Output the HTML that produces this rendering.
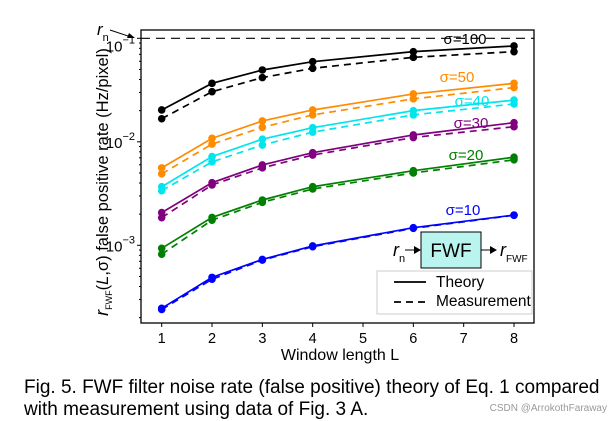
<!DOCTYPE html>
<html><head><meta charset="utf-8"><style>
body{margin:0;background:#fff;width:613px;height:421px;overflow:hidden;font-family:"Liberation Sans",Arial,sans-serif}
.cap{position:absolute;left:24px;top:377px;font-size:19px;line-height:22px;color:#000;white-space:nowrap}
.wm{position:absolute;right:6px;top:403px;font-size:10px;color:#999}
</style></head><body>
<svg id="chart" width="613" height="421" style="position:absolute;left:0;top:0" font-family="Liberation Sans, Arial, sans-serif"></svg>
<div class="cap">Fig. 5. FWF filter noise rate (false positive) theory of Eq. 1 compared<br>with measurement using data of Fig. 3 A.</div>
<div class="wm">CSDN @ArrokothFaraway</div>
<script>
const windows=[1,2,3,4,6,8];
const sigmaLabels=["σ=100","σ=50","σ=40","σ=30","σ=20","σ=10"];
const colors=["#000000","#ff8c00","#00e5ee","#800080","#008000","#0000ff"];
const theory100=[0.0203,0.0367,0.0494,0.0594,0.0743,0.0843];
const meas100=[0.0167,0.0305,0.0417,0.0513,0.0655,0.0743];
const theory50=[0.0056,0.0108,0.0159,0.0203,0.029,0.0367];
const meas50=[0.0049,0.0095,0.0138,0.0182,0.026,0.0334];
const theory40=[0.00368,0.0072,0.0106,0.0137,0.020,0.0253];
const meas40=[0.00337,0.0064,0.0093,0.0124,0.0182,0.0232];
const theory30=[0.00207,0.00403,0.00597,0.00785,0.01164,0.0153];
const meas30=[0.00185,0.00383,0.0056,0.00745,0.011,0.014];
const theory20=[0.000935,0.00186,0.00274,0.00368,0.00526,0.0071];
const meas20=[0.00082,0.00175,0.0026,0.0035,0.0050,0.0067];
const theory10=[0.000246,0.00049,0.00073,0.000985,0.00148,0.00196];
const meas10=[0.000240,0.00047,0.00072,0.00097,0.00146,0.00195];
const xTicks=[1,2,3,4,5,6,7,8];
const rn=0.1;
const theories=[theory100,theory50,theory40,theory30,theory20,theory10];
const meass=[meas100,meas50,meas40,meas30,meas20,meas10];
const labelPos=[[465,44],[457,82],[472,106],[471,128],[466,160],[463,215]];

const NS="http://www.w3.org/2000/svg";
const svg=document.getElementById('chart');
const L=141,R=534,T=30,B=323;
const xS=v=>161.7+(v-1)*50.33;
const yS=v=>38.3-(Math.log10(v)+1)*103.5;
function mk(tag,attrs,parent){const e=document.createElementNS(NS,tag);for(const k in attrs)e.setAttribute(k,attrs[k]);(parent||svg).appendChild(e);return e;}

let f=mk('rect',{x:L,y:T,width:R-L,height:B-T,fill:'none',stroke:'#000','stroke-width':1.3});


xTicks.forEach(t=>{
  let l=mk('line',{x1:xS(t),x2:xS(t),y1:B,y2:B+4,stroke:'#000'});
  
  
  let tx=mk('text',{x:xS(t),y:B+20,'font-size':14.5,'text-anchor':'middle'});tx.textContent=t;
  
  
});
for(let e=-4;e<=-1;e++){for(let m=1;m<10;m++){const v=m*Math.pow(10,e);const y=yS(v);if(y<T||y>B)continue;
  let l=mk('line',{x1:L-(m==1?4:2),x2:L,y1:y,y2:y,stroke:'#000'});
  
  
  if(m==1){const off=(e==-1)?13:6;let tx=mk('text',{x:L-6,y:y+off,'font-size':15,'text-anchor':'end'});tx.innerHTML='10<tspan dy="-8" font-size="11">−'+(-e)+'</tspan>';
    
    }
}}
let rl=mk('line',{x1:L,x2:R,y1:yS(rn),y2:yS(rn),stroke:'#000','stroke-dasharray':'9,6','stroke-width':1.2});


let rt=mk('text',{x:97,y:35,'font-size':17,'font-style':'italic'});rt.innerHTML='r<tspan dy="6" font-size="11" font-style="normal">n</tspan>';


mk('line',{x1:110,y1:30,x2:131,y2:37,stroke:'#000'});
mk('polygon',{points:'135,38 127,38 129,33',fill:'#000'});

function series(vals,col,dash,name){
  const pts=vals.map((v,i)=>xS(windows[i])+','+yS(v)).join(' ');
  let p=mk('polyline',{points:pts,fill:'none',stroke:col,'stroke-width':1.7,'stroke-dasharray':dash?'7,5':'none'});
  
  
  vals.forEach((v,i)=>{let c=mk('circle',{cx:xS(windows[i]),cy:yS(v),r:3.8,fill:col});
    
    });
}
theories.forEach((t,k)=>{
  series(meass[k],colors[k],true,'measurement-line-'+k);
  series(t,colors[k],false,'theory-line-'+k);
  let tx=mk('text',{x:labelPos[k][0],y:labelPos[k][1],'font-size':15,fill:colors[k],'text-anchor':'middle'});tx.textContent=sigmaLabels[k];
  
  
});

let fb=mk('rect',{x:421,y:232,width:60,height:36,fill:'#b9f4ee',stroke:'#000','stroke-width':1});


let ft=mk('text',{x:451,y:257,'font-size':19,'text-anchor':'middle'});ft.textContent='FWF';


let a1=mk('text',{x:393,y:256,'font-size':18,'font-style':'italic'});a1.innerHTML='r<tspan dy="6" font-size="11" font-style="normal">n</tspan>';


mk('line',{x1:405,y1:250,x2:416,y2:250,stroke:'#000'});mk('polygon',{points:'421,250 414,246 414,254',fill:'#000'});
mk('line',{x1:481,y1:250,x2:492,y2:250,stroke:'#000'});mk('polygon',{points:'497,250 490,246 490,254',fill:'#000'});
let a2=mk('text',{x:500,y:256,'font-size':18,'font-style':'italic'});a2.innerHTML='r<tspan dy="6" font-size="10" font-style="normal">FWF</tspan>';



let lg=mk('rect',{x:377,y:271,width:155,height:43,fill:'#fff',stroke:'#ccc'});


mk('line',{x1:394,x2:426,y1:282,y2:282,stroke:'#000','stroke-width':1.7});
mk('line',{x1:394,x2:426,y1:302,y2:302,stroke:'#000','stroke-width':1.7,'stroke-dasharray':'7,5'});
let l1=mk('text',{x:436,y:287,'font-size':15.5});l1.textContent='Theory';


let l2=mk('text',{x:436,y:306,'font-size':15.5});l2.textContent='Measurement';



let xt=mk('text',{x:340,y:360,'font-size':16,'text-anchor':'middle'});xt.textContent='Window length L';


let yt=mk('text',{x:0,y:0,'font-size':16.5,'text-anchor':'middle',transform:'translate(108,182) rotate(-90)'});
yt.innerHTML='<tspan font-style="italic" font-size="18">r</tspan><tspan font-size="9" dy="4">FWF</tspan><tspan dy="-4">(</tspan><tspan font-style="italic">L</tspan>,σ) false positive rate (Hz/pixel)';


</script>
</body></html>
